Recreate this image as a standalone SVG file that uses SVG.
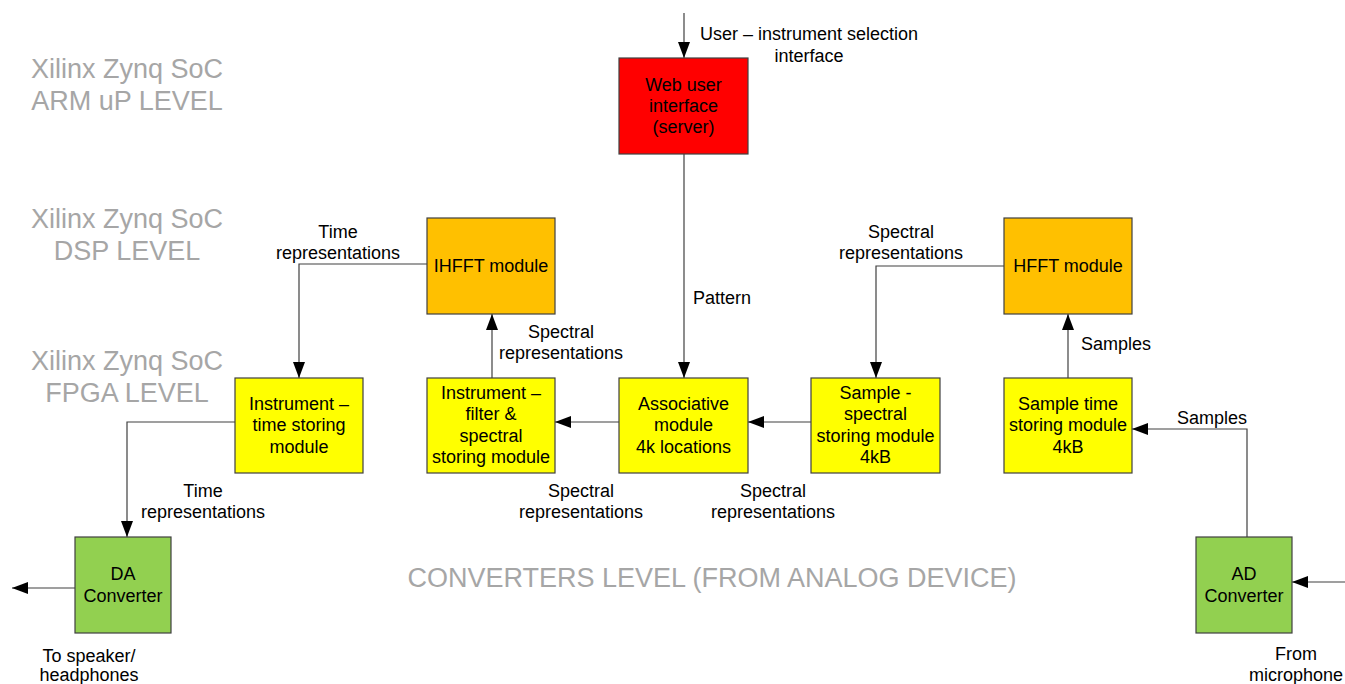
<svg xmlns="http://www.w3.org/2000/svg" width="1345" height="684" viewBox="0 0 1345 684">
<defs>
<marker id="ah" markerUnits="userSpaceOnUse" markerWidth="16" markerHeight="12" refX="16" refY="6" orient="auto">
<path d="M0,0 L16,6 L0,12 z" fill="#000"/>
</marker>
<style>
.box{stroke:#404040;stroke-width:1.2}
.red{fill:#ff0000}.org{fill:#ffc000}.yel{fill:#ffff00}.grn{fill:#92d050}
.t{font-family:"Liberation Sans",Arial,sans-serif;font-size:18px;fill:#000;text-anchor:middle}
.l{font-family:"Liberation Sans",Arial,sans-serif;font-size:18px;fill:#000}
.lvl{font-family:"Liberation Sans",Arial,sans-serif;font-size:27px;fill:#a6a6a6;text-anchor:middle}
.c{fill:none;stroke:#404040;stroke-width:1.2}
</style>
</defs>
<rect width="1345" height="684" fill="#fff"/>

<g id="levels">
<text class="lvl" x="127" y="78">Xilinx Zynq SoC</text>
<text class="lvl" x="127" y="110">ARM uP LEVEL</text>
<text class="lvl" x="127" y="228">Xilinx Zynq SoC</text>
<text class="lvl" x="127" y="260">DSP LEVEL</text>
<text class="lvl" x="127" y="370">Xilinx Zynq SoC</text>
<text class="lvl" x="127" y="402">FPGA LEVEL</text>
<text class="lvl" x="712" y="587">CONVERTERS LEVEL (FROM ANALOG DEVICE)</text>
</g>

<g id="connectors">
<path class="c" d="M684,13 V58" marker-end="url(#ah)"/>
<path class="c" d="M684,154 V378" marker-end="url(#ah)"/>
<path class="c" d="M427,264 H299 V378" marker-end="url(#ah)"/>
<path class="c" d="M492,378 V314" marker-end="url(#ah)"/>
<path class="c" d="M619,422 H555" marker-end="url(#ah)"/>
<path class="c" d="M811,422 H748" marker-end="url(#ah)"/>
<path class="c" d="M1004,266 H876 V378" marker-end="url(#ah)"/>
<path class="c" d="M1068,378 V314" marker-end="url(#ah)"/>
<path class="c" d="M1247,537 V429 H1132" marker-end="url(#ah)"/>
<path class="c" d="M1345,582 H1292" marker-end="url(#ah)"/>
<path class="c" d="M235,422 H127 V537" marker-end="url(#ah)"/>
<path class="c" d="M75,588 H12" marker-end="url(#ah)"/>
</g>

<g id="labels">
<text class="l" x="700" y="40">User – instrument selection</text>
<text class="t" x="809" y="62">interface</text>
<text class="t" x="338" y="238">Time</text>
<text class="t" x="338" y="259">representations</text>
<text class="t" x="561" y="338">Spectral</text>
<text class="t" x="561" y="359">representations</text>
<text class="l" x="693" y="304">Pattern</text>
<text class="t" x="901" y="238">Spectral</text>
<text class="t" x="901" y="259">representations</text>
<text class="t" x="581" y="497">Spectral</text>
<text class="t" x="581" y="518">representations</text>
<text class="t" x="773" y="497">Spectral</text>
<text class="t" x="773" y="518">representations</text>
<text class="t" x="203" y="497">Time</text>
<text class="t" x="203" y="518">representations</text>
<text class="l" x="1081" y="350">Samples</text>
<text class="l" x="1177" y="424">Samples</text>
<text class="t" x="89" y="662">To speaker/</text>
<text class="t" x="89" y="681">headphones</text>
<text class="t" x="1296" y="660">From</text>
<text class="t" x="1296" y="681">microphone</text>
</g>

<g id="web">
<rect class="box red" x="619" y="58" width="129" height="96"/>
<text class="t" x="683.5" y="91">Web user</text>
<text class="t" x="683.5" y="112">interface</text>
<text class="t" x="683.5" y="133">(server)</text>
</g>

<g id="ihfft">
<rect class="box org" x="427" y="218" width="128" height="96"/>
<text class="t" x="491" y="272">IHFFT module</text>
</g>

<g id="hfft">
<rect class="box org" x="1004" y="218" width="128" height="96"/>
<text class="t" x="1068" y="272">HFFT module</text>
</g>

<g id="inst-time">
<rect class="box yel" x="235" y="378" width="128" height="95"/>
<text class="t" x="299" y="410">Instrument –</text>
<text class="t" x="299" y="431">time storing</text>
<text class="t" x="299" y="453">module</text>
</g>

<g id="inst-filter">
<rect class="box yel" x="427" y="378" width="128" height="95"/>
<text class="t" x="491" y="399">Instrument –</text>
<text class="t" x="491" y="420">filter &amp;</text>
<text class="t" x="491" y="442">spectral</text>
<text class="t" x="491" y="463">storing module</text>
</g>

<g id="assoc">
<rect class="box yel" x="619" y="378" width="129" height="95"/>
<text class="t" x="683.5" y="410">Associative</text>
<text class="t" x="683.5" y="431">module</text>
<text class="t" x="683.5" y="453">4k locations</text>
</g>

<g id="sample-spectral">
<rect class="box yel" x="811" y="378" width="129" height="95"/>
<text class="t" x="875.5" y="399">Sample -</text>
<text class="t" x="875.5" y="420">spectral</text>
<text class="t" x="875.5" y="442">storing module</text>
<text class="t" x="875.5" y="463">4kB</text>
</g>

<g id="sample-time">
<rect class="box yel" x="1004" y="378" width="128" height="95"/>
<text class="t" x="1068" y="410">Sample time</text>
<text class="t" x="1068" y="431">storing module</text>
<text class="t" x="1068" y="453">4kB</text>
</g>

<g id="da">
<rect class="box grn" x="75" y="537" width="96" height="96"/>
<text class="t" x="123" y="580">DA</text>
<text class="t" x="123" y="602">Converter</text>
</g>

<g id="ad">
<rect class="box grn" x="1196" y="537" width="96" height="96"/>
<text class="t" x="1244" y="580">AD</text>
<text class="t" x="1244" y="602">Converter</text>
</g>
</svg>
